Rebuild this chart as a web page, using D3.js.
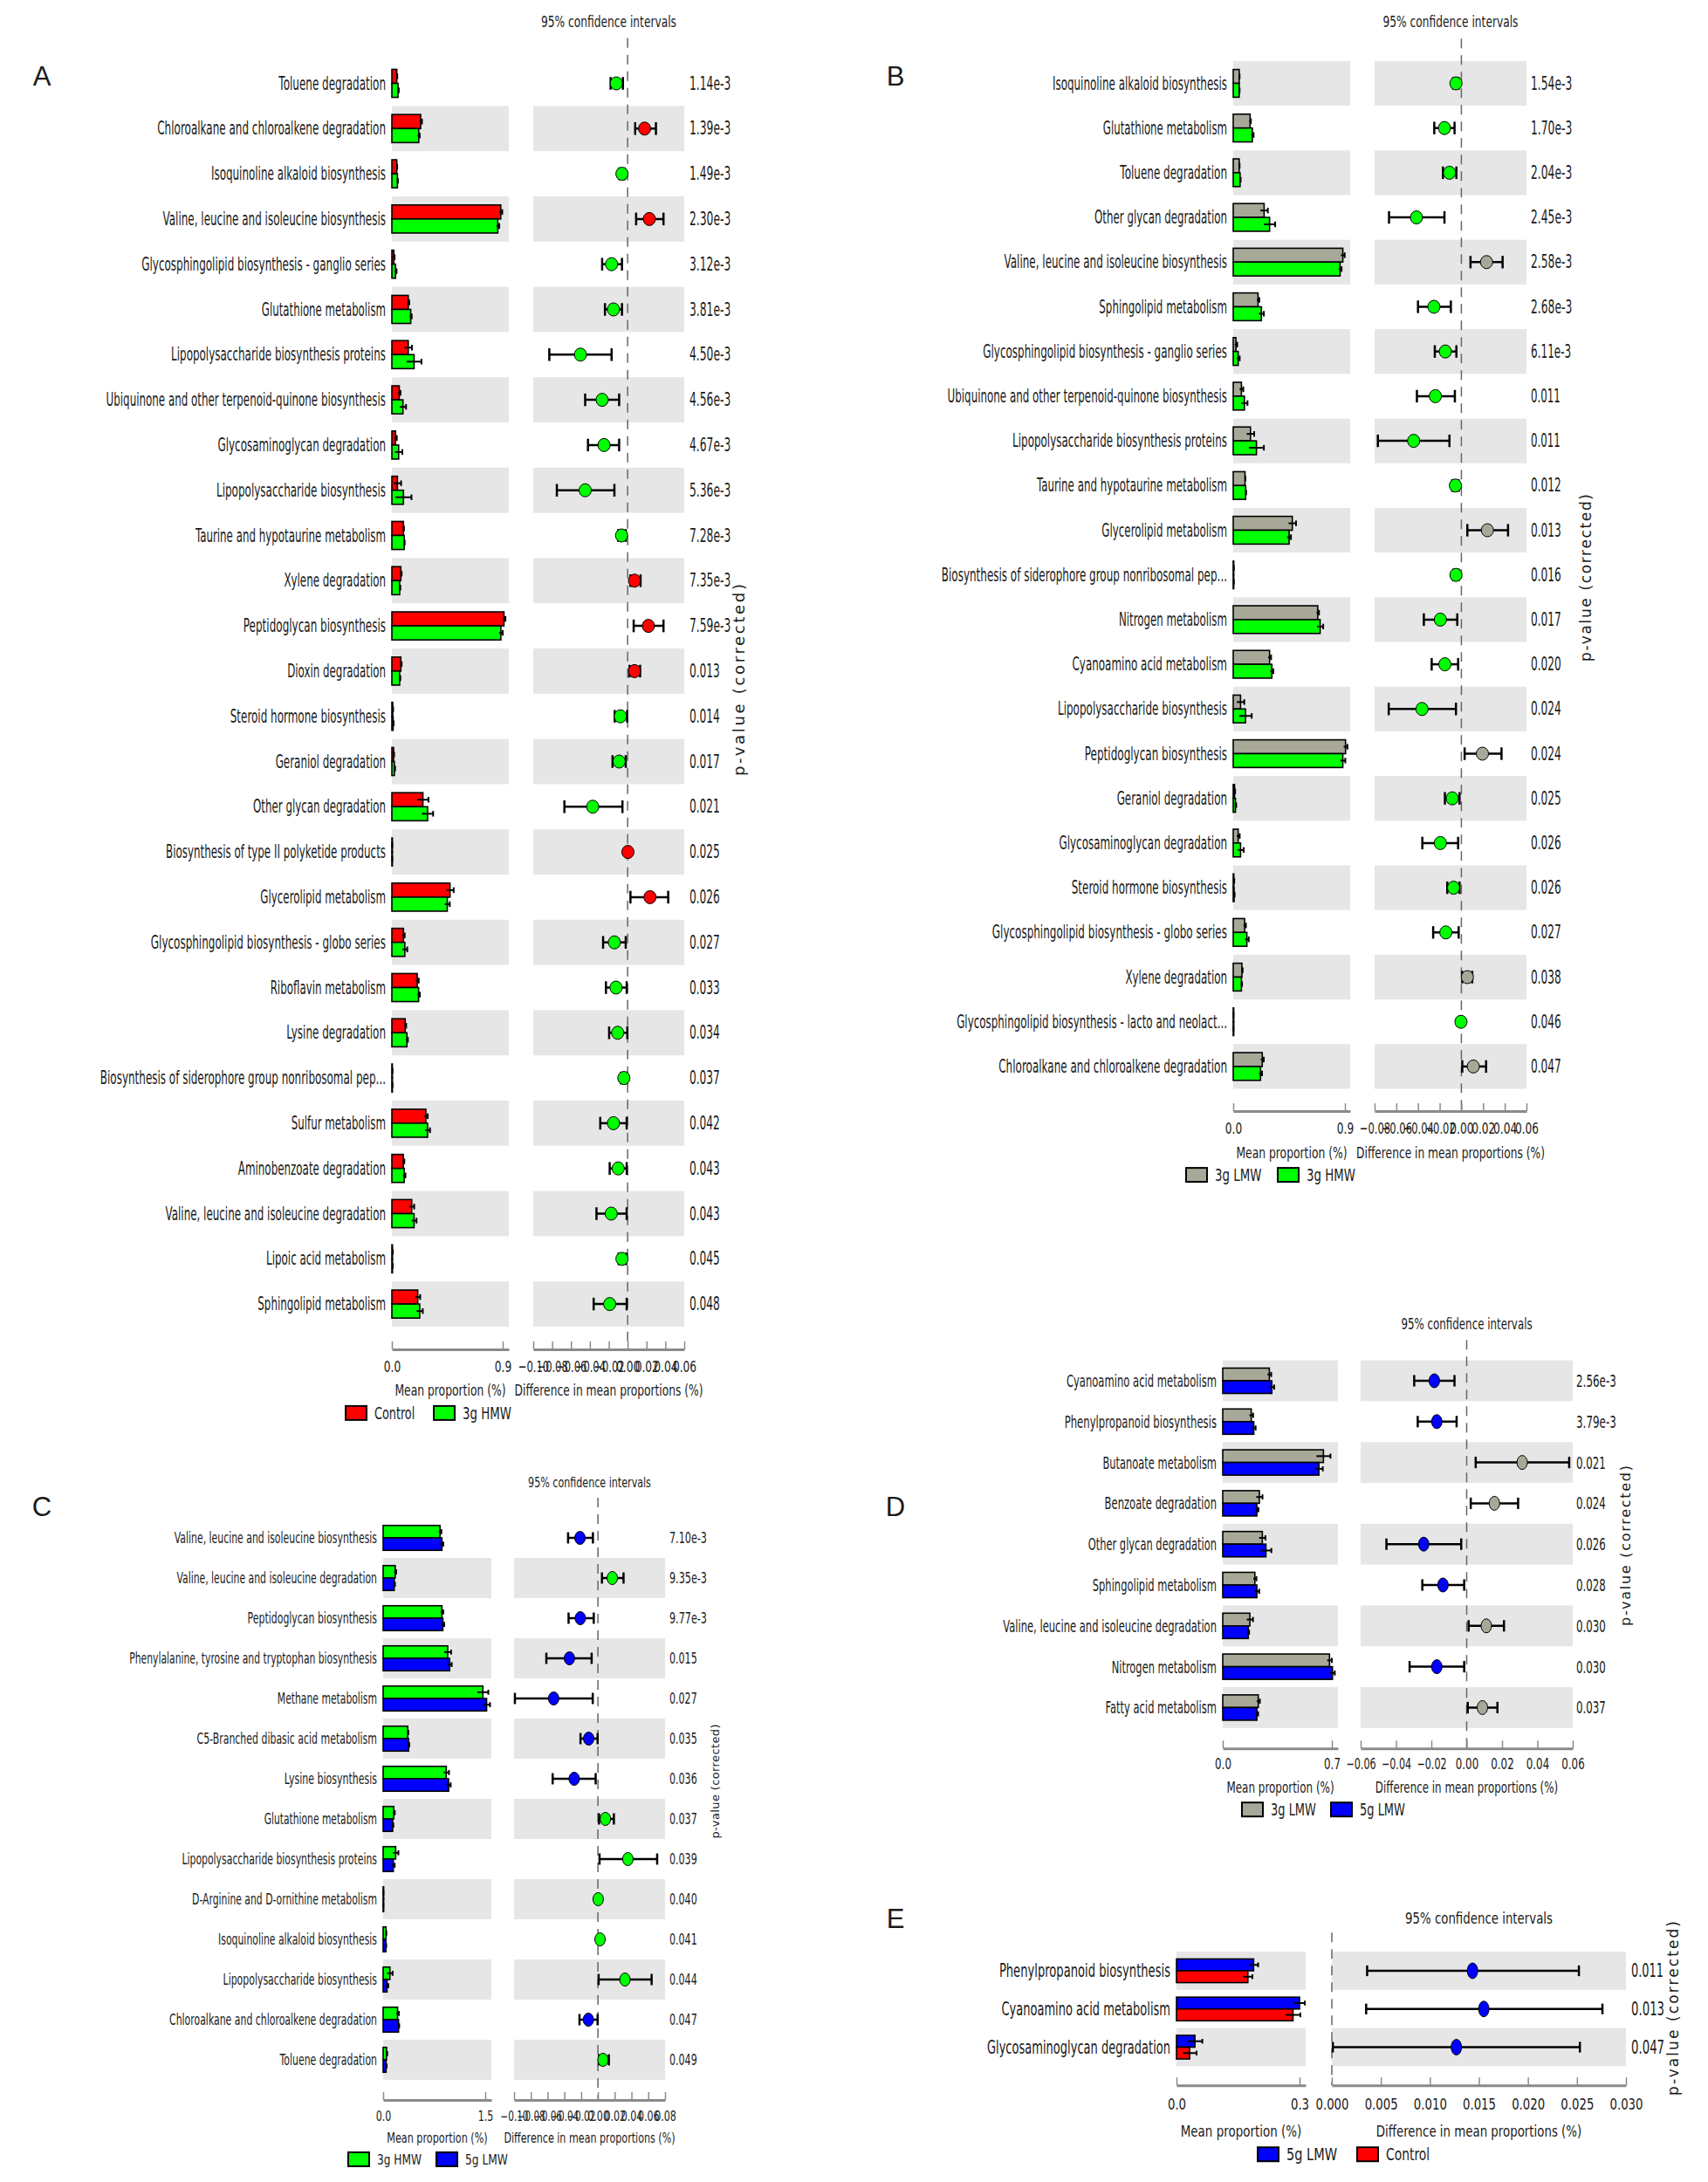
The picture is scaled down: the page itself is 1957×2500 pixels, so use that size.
<!DOCTYPE html>
<html>
  <head>
    <meta charset="UTF-8" />
    <title>STAMP extended error bar plots</title>
    <script src="https://d3js.org/d3.v7.min.js"></script>
    <style>
      body { margin: 0; background: #fff; }
      svg text { font-family: "DejaVu Sans", sans-serif; fill: #1a1a1a; }
    </style>
  </head>
  <body>
    <div id="chart"></div>
    <script>
      // couleurs des groupes
      const RED = "#ff0000", GREEN = "#00ff00", BLUE = "#0000ff", GREY = "#a8a898";

      // ---------- panneau A : Control vs 3g HMW ----------
      const aLabels = ["Toluene degradation", "Chloroalkane and chloroalkene degradation", "Isoquinoline alkaloid biosynthesis",
        "Valine, leucine and isoleucine biosynthesis", "Glycosphingolipid biosynthesis - ganglio series", "Glutathione metabolism",
        "Lipopolysaccharide biosynthesis proteins", "Ubiquinone and other terpenoid-quinone biosynthesis", "Glycosaminoglycan degradation",
        "Lipopolysaccharide biosynthesis", "Taurine and hypotaurine metabolism", "Xylene degradation", "Peptidoglycan biosynthesis",
        "Dioxin degradation", "Steroid hormone biosynthesis", "Geraniol degradation", "Other glycan degradation",
        "Biosynthesis of type II polyketide products", "Glycerolipid metabolism", "Glycosphingolipid biosynthesis - globo series",
        "Riboflavin metabolism", "Lysine degradation", "Biosynthesis of siderophore group nonribosomal pep...", "Sulfur metabolism",
        "Aminobenzoate degradation", "Valine, leucine and isoleucine degradation", "Lipoic acid metabolism", "Sphingolipid metabolism"];
      const aMean1 = [0.040, 0.234, 0.040, 0.884, 0.016, 0.133, 0.133, 0.060, 0.030, 0.045, 0.094, 0.073, 0.910, 0.073,
        0.007, 0.014, 0.252, 0.002, 0.472, 0.094, 0.206, 0.108, 0.003, 0.276, 0.093, 0.161, 0.005, 0.210];
      const aMean2 = [0.050, 0.218, 0.045, 0.860, 0.030, 0.153, 0.180, 0.090, 0.055, 0.094, 0.100, 0.063, 0.885, 0.063,
        0.010, 0.020, 0.290, 0.002, 0.450, 0.105, 0.217, 0.122, 0.003, 0.290, 0.100, 0.180, 0.005, 0.226];
      const aSd1 = [0.004, 0.010, 0.003, 0.012, 0.006, 0.008, 0.030, 0.010, 0.010, 0.030, 0.004, 0.006, 0.012, 0.006,
        0.003, 0.004, 0.045, 0.001, 0.030, 0.010, 0.012, 0.008, 0.002, 0.015, 0.008, 0.020, 0.002, 0.020];
      const aSd2 = [0.006, 0.008, 0.004, 0.012, 0.008, 0.008, 0.060, 0.025, 0.030, 0.065, 0.004, 0.006, 0.015, 0.006,
        0.004, 0.006, 0.045, 0.001, 0.020, 0.020, 0.010, 0.008, 0.002, 0.020, 0.010, 0.020, 0.002, 0.025];
      const aDiff = [-0.012, 0.018, -0.006, 0.023, -0.017, -0.015, -0.050, -0.027, -0.025, -0.045, -0.0064, 0.0073, 0.022, 0.0073,
        -0.0077, -0.009, -0.037, 0.0003, 0.0237, -0.014, -0.0123, -0.0105, -0.004, -0.015, -0.010, -0.0174, -0.006, -0.019];
      const aLo = [-0.018, 0.008, -0.009, 0.009, -0.027, -0.024, -0.083, -0.045, -0.042, -0.075, -0.010, 0.003, 0.0064, 0.002,
        -0.0137, -0.016, -0.067, -0.0005, 0.003, -0.026, -0.023, -0.0196, -0.007, -0.029, -0.019, -0.033, -0.0095, -0.036];
      const aHi = [-0.005, 0.030, -0.003, 0.038, -0.006, -0.006, -0.017, -0.009, -0.009, -0.014, -0.002, 0.0137, 0.038, 0.0132,
        -0.0005, -0.002, -0.0055, 0.001, 0.043, -0.002, -0.001, -0.0003, -0.001, -0.001, -0.001, -0.001, -0.0015, -0.001];
      const aP = ["1.14e-3", "1.39e-3", "1.49e-3", "2.30e-3", "3.12e-3", "3.81e-3", "4.50e-3", "4.56e-3", "4.67e-3", "5.36e-3",
        "7.28e-3", "7.35e-3", "7.59e-3", "0.013", "0.014", "0.017", "0.021", "0.025", "0.026", "0.027", "0.033", "0.034",
        "0.037", "0.042", "0.043", "0.043", "0.045", "0.048"];

      // ---------- panneau B : 3g LMW vs 3g HMW ----------
      const bLabels = ["Isoquinoline alkaloid biosynthesis", "Glutathione metabolism", "Toluene degradation", "Other glycan degradation",
        "Valine, leucine and isoleucine biosynthesis", "Sphingolipid metabolism", "Glycosphingolipid biosynthesis - ganglio series",
        "Ubiquinone and other terpenoid-quinone biosynthesis", "Lipopolysaccharide biosynthesis proteins",
        "Taurine and hypotaurine metabolism", "Glycerolipid metabolism", "Biosynthesis of siderophore group nonribosomal pep...",
        "Nitrogen metabolism", "Cyanoamino acid metabolism", "Lipopolysaccharide biosynthesis", "Peptidoglycan biosynthesis",
        "Geraniol degradation", "Glycosaminoglycan degradation", "Steroid hormone biosynthesis",
        "Glycosphingolipid biosynthesis - globo series", "Xylene degradation",
        "Glycosphingolipid biosynthesis - lacto and neolact...", "Chloroalkane and chloroalkene degradation"];
      const bMean1 = [0.048, 0.136, 0.048, 0.249, 0.883, 0.200, 0.022, 0.066, 0.139, 0.095, 0.476, 0.003, 0.681, 0.293,
        0.059, 0.905, 0.011, 0.040, 0.005, 0.092, 0.070, 0.001, 0.234];
      const bMean2 = [0.048, 0.154, 0.055, 0.293, 0.861, 0.227, 0.040, 0.090, 0.187, 0.100, 0.450, 0.003, 0.700, 0.311,
        0.099, 0.883, 0.018, 0.059, 0.007, 0.110, 0.066, 0.001, 0.220];
      const bSd1 = [0.003, 0.006, 0.003, 0.030, 0.015, 0.010, 0.010, 0.015, 0.030, 0.003, 0.030, 0.002, 0.010, 0.012,
        0.030, 0.015, 0.004, 0.012, 0.003, 0.010, 0.006, 0.001, 0.012];
      const bSd2 = [0.003, 0.010, 0.005, 0.045, 0.012, 0.020, 0.012, 0.025, 0.060, 0.004, 0.015, 0.002, 0.025, 0.012,
        0.050, 0.020, 0.006, 0.025, 0.004, 0.015, 0.005, 0.001, 0.012];
      const bDiff = [-0.005, -0.0156, -0.011, -0.0414, 0.0232, -0.0253, -0.0148, -0.024, -0.044, -0.0055, 0.024, -0.005,
        -0.0194, -0.0152, -0.0363, 0.0194, -0.0084, -0.0194, -0.0072, -0.0143, 0.0055, -0.0004, 0.011];
      const bLo = [-0.0076, -0.025, -0.017, -0.0667, 0.0084, -0.040, -0.0245, -0.041, -0.077, -0.0085, 0.0055, -0.0076,
        -0.0346, -0.0274, -0.067, 0.003, -0.0152, -0.036, -0.013, -0.026, 0.0008, -0.0008, 0.0008];
      const bHi = [-0.0025, -0.0063, -0.0046, -0.0156, 0.038, -0.0097, -0.0046, -0.006, -0.011, -0.0025, 0.043, -0.0025,
        -0.0038, -0.003, -0.005, 0.037, -0.0017, -0.003, -0.0017, -0.0025, 0.010, -0.0001, 0.0228];
      const bP = ["1.54e-3", "1.70e-3", "2.04e-3", "2.45e-3", "2.58e-3", "2.68e-3", "6.11e-3", "0.011", "0.011", "0.012",
        "0.013", "0.016", "0.017", "0.020", "0.024", "0.024", "0.025", "0.026", "0.026", "0.027", "0.038", "0.046", "0.047"];

      // ---------- panneau C : 3g HMW vs 5g LMW ----------
      const cLabels = ["Valine, leucine and isoleucine biosynthesis", "Valine, leucine and isoleucine degradation",
        "Peptidoglycan biosynthesis", "Phenylalanine, tyrosine and tryptophan biosynthesis", "Methane metabolism",
        "C5-Branched dibasic acid metabolism", "Lysine biosynthesis", "Glutathione metabolism",
        "Lipopolysaccharide biosynthesis proteins", "D-Arginine and D-ornithine metabolism", "Isoquinoline alkaloid biosynthesis",
        "Lipopolysaccharide biosynthesis", "Chloroalkane and chloroalkene degradation", "Toluene degradation"];
      const cMean1 = [0.835, 0.177, 0.863, 0.948, 1.465, 0.361, 0.927, 0.156, 0.184, 0.003, 0.042, 0.099, 0.212, 0.050];
      const cMean2 = [0.863, 0.163, 0.877, 0.977, 1.520, 0.375, 0.962, 0.140, 0.149, 0.002, 0.040, 0.057, 0.226, 0.043];
      const cSd1 = [0.020, 0.015, 0.020, 0.050, 0.080, 0.010, 0.040, 0.015, 0.040, 0.001, 0.005, 0.040, 0.020, 0.010];
      const cSd2 = [0.020, 0.010, 0.020, 0.030, 0.050, 0.010, 0.030, 0.010, 0.020, 0.001, 0.005, 0.020, 0.010, 0.008];
      const cDiff = [-0.0214, 0.0171, -0.021, -0.034, -0.0528, -0.011, -0.0283, 0.0089, 0.0357, 0.0003, 0.0025, 0.0322, -0.0114, 0.006];
      const cLo = [-0.0356, 0.0048, -0.035, -0.0615, -0.099, -0.0208, -0.054, 0.0013, 0.0019, 0.0001, 0.0012, 0.0008, -0.022, 0.0013];
      const cHi = [-0.006, 0.0305, -0.005, -0.0075, -0.0062, -0.0004, -0.0027, 0.019, 0.0706, 0.0005, 0.0038, 0.064, -0.0004, 0.013];
      const cP = ["7.10e-3", "9.35e-3", "9.77e-3", "0.015", "0.027", "0.035", "0.036", "0.037", "0.039", "0.040", "0.041",
        "0.044", "0.047", "0.049"];

      // ---------- panneau D : 3g LMW vs 5g LMW ----------
      const dLabels = ["Cyanoamino acid metabolism", "Phenylpropanoid biosynthesis", "Butanoate metabolism", "Benzoate degradation",
        "Other glycan degradation", "Sphingolipid metabolism", "Valine, leucine and isoleucine degradation", "Nitrogen metabolism",
        "Fatty acid metabolism"];
      const dMean1 = [0.299, 0.183, 0.646, 0.235, 0.254, 0.206, 0.174, 0.685, 0.228];
      const dMean2 = [0.315, 0.199, 0.617, 0.219, 0.277, 0.219, 0.164, 0.704, 0.219];
      const dSd1 = [0.012, 0.012, 0.045, 0.020, 0.020, 0.010, 0.020, 0.015, 0.010];
      const dSd2 = [0.015, 0.012, 0.025, 0.010, 0.035, 0.015, 0.005, 0.015, 0.008];
      const dDiff = [-0.0183, -0.0169, 0.0314, 0.0157, -0.0243, -0.0134, 0.0111, -0.0169, 0.0089];
      const dLo = [-0.0297, -0.0277, 0.0051, 0.0023, -0.0454, -0.0251, 0.0011, -0.0323, 0.0006];
      const dHi = [-0.0069, -0.0057, 0.058, 0.0291, -0.0031, -0.0014, 0.0211, -0.0014, 0.0174];
      const dP = ["2.56e-3", "3.79e-3", "0.021", "0.024", "0.026", "0.028", "0.030", "0.030", "0.037"];

      // ---------- panneau E : 5g LMW vs Control ----------
      const eLabels = ["Phenylpropanoid biosynthesis", "Cyanoamino acid metabolism", "Glycosaminoglycan degradation"];
      const eMean1 = [0.188, 0.300, 0.045];
      const eMean2 = [0.174, 0.284, 0.032];
      const eSd1 = [0.011, 0.013, 0.018];
      const eSd2 = [0.011, 0.018, 0.017];
      const eDiff = [0.01435, 0.0155, 0.0127];
      const eLo = [0.0036, 0.0035, 0.0001];
      const eHi = [0.0252, 0.0276, 0.0253];
      const eP = ["0.011", "0.013", "0.047"];

      const svg = d3.select("#chart").append("svg")
        .attr("width", 1957)
        .attr("height", 2500);

      // texte haut et étroit : largeur d'une « Narrow » (82 % de Liberation Sans à fsRef),
      // hauteur de DejaVu Sans à la taille demandée
      function narrow(sel, fsRef, size, k) {
        sel.each(function () {
          const t = d3.select(this);
          t.style("font-family", "'Liberation Sans'").attr("font-size", fsRef);
          const w = this.getComputedTextLength() * 0.82 * k;
          t.style("font-family", "'DejaVu Sans'").attr("font-size", size)
            .attr("textLength", w).attr("lengthAdjust", "spacingAndGlyphs");
        });
      }

      function drawPanel(p) {
        const n = p.labels.length;
        const rows = d3.range(n);
        const g = svg.append("g");
        const lastY = p.rowTop + (n - 1) * p.step;
        const y = d3.scalePoint().domain(rows).range([p.rowTop, lastY]);
        const barMax = p.barTick * (p.barX1 - p.barX0) / (p.barTickX - p.barX0);
        const xBar = d3.scaleLinear().domain([0, barMax]).range([p.barX0, p.barX1]);
        const xDiff = d3.scaleLinear().domain(p.diffDomain).range([p.diffX0, p.diffX1]);
        const bh = p.step * 0.31;
        const axisY = lastY + p.step;
        const shaded = rows.filter(i => (n - 1 - i) % 2 === 0);

        // bandes grises une ligne sur deux (en partant du bas)
        [[p.barX0, p.barX1], [p.diffX0, p.diffX1]].forEach(([x0, x1]) => {
          g.append("g").selectAll("rect")
            .data(shaded)
            .join("rect")
            .attr("x", x0)
            .attr("width", x1 - x0)
            .attr("y", i => y(i) - p.step / 2)
            .attr("height", p.step)
            .attr("fill", "#e6e6e6");
        });

        // noms des voies
        const labelTxt = g.append("g").selectAll("text")
          .data(rows)
          .join("text")
          .attr("x", p.barX0 - 7)
          .attr("y", i => y(i))
          .attr("text-anchor", "end")
          .attr("dominant-baseline", "central")
          .text(i => p.labels[i]);
        narrow(labelTxt, p.fs, p.size, 1);

        // barres des proportions moyennes
        const bars = [];
        rows.forEach(i => {
          bars.push({ i: i, k: 0, m: p.mean1[i], sd: p.sd1[i], c: p.colors[0] });
          bars.push({ i: i, k: 1, m: p.mean2[i], sd: p.sd2[i], c: p.colors[1] });
        });
        const barY = d => y(d.i) - bh + d.k * bh;
        g.append("g").selectAll("rect")
          .data(bars)
          .join("rect")
          .attr("x", p.barX0)
          .attr("y", barY)
          .attr("width", d => Math.max(0.6, xBar(d.m) - p.barX0))
          .attr("height", bh)
          .attr("fill", d => d.c)
          .attr("stroke", "#000")
          .attr("stroke-width", 1.6);
        const be = g.append("g").attr("stroke", "#000").attr("stroke-width", 2);
        be.selectAll("line.h")
          .data(bars)
          .join("line")
          .attr("class", "h")
          .attr("x1", d => xBar(Math.max(0, d.m - d.sd)))
          .attr("x2", d => xBar(d.m + d.sd))
          .attr("y1", d => barY(d) + bh / 2)
          .attr("y2", d => barY(d) + bh / 2);
        be.selectAll("line.c")
          .data(bars)
          .join("line")
          .attr("class", "c")
          .attr("x1", d => xBar(d.m + d.sd))
          .attr("x2", d => xBar(d.m + d.sd))
          .attr("y1", d => barY(d) + bh * 0.3)
          .attr("y2", d => barY(d) + bh * 0.7);

        // ligne zéro en tirets
        g.append("line")
          .attr("x1", xDiff(0)).attr("x2", xDiff(0))
          .attr("y1", p.rowTop - p.step).attr("y2", axisY)
          .attr("stroke", "#666")
          .attr("stroke-width", 1.5)
          .attr("stroke-dasharray", "11,8");

        // intervalles de confiance
        const capH = p.step * 0.14;
        const ci = g.append("g").attr("stroke", "#000").attr("stroke-width", 2.5);
        ci.selectAll("line.h")
          .data(rows)
          .join("line")
          .attr("class", "h")
          .attr("x1", i => xDiff(p.lo[i]))
          .attr("x2", i => xDiff(p.hi[i]))
          .attr("y1", i => y(i))
          .attr("y2", i => y(i));
        ci.selectAll("line.l")
          .data(rows)
          .join("line")
          .attr("class", "l")
          .attr("x1", i => xDiff(p.lo[i])).attr("x2", i => xDiff(p.lo[i]))
          .attr("y1", i => y(i) - capH).attr("y2", i => y(i) + capH);
        ci.selectAll("line.r")
          .data(rows)
          .join("line")
          .attr("class", "r")
          .attr("x1", i => xDiff(p.hi[i])).attr("x2", i => xDiff(p.hi[i]))
          .attr("y1", i => y(i) - capH).attr("y2", i => y(i) + capH);
        g.append("g").selectAll("ellipse")
          .data(rows)
          .join("ellipse")
          .attr("cx", i => xDiff(p.diff[i]))
          .attr("cy", i => y(i))
          .attr("rx", p.rx)
          .attr("ry", p.ry)
          .attr("fill", i => p.diff[i] >= 0 ? p.colors[0] : p.colors[1])
          .attr("stroke", "#000")
          .attr("stroke-width", 1);

        // p-values
        const pTxt = g.append("g").selectAll("text")
          .data(rows)
          .join("text")
          .attr("x", p.pX)
          .attr("y", i => y(i))
          .attr("dominant-baseline", "central")
          .text(i => p.pvals[i]);
        narrow(pTxt, p.fs, p.size, 1.03);

        // axes
        const barAxis = d3.axisBottom(xBar)
          .tickValues([0, p.barTick])
          .tickFormat(d3.format(".1f"))
          .tickSizeInner(-9).tickSizeOuter(0)
          .tickPadding(p.tickDy - p.size * 0.34);
        const diffStep = p.diffTickStep;
        const diffTicks = d3.range(Math.round(p.diffDomain[0] / diffStep), Math.round(p.diffDomain[1] / diffStep) + 1)
          .map(k => k * diffStep);
        const diffAxis = d3.axisBottom(xDiff)
          .tickValues(diffTicks)
          .tickFormat(d3.format(p.diffFormat))
          .tickSizeInner(-9).tickSizeOuter(0)
          .tickPadding(p.tickDy - p.size * 0.34);
        [barAxis, diffAxis].forEach(ax => {
          const ga = g.append("g")
            .attr("transform", "translate(0," + axisY + ")")
            .call(ax)
            .attr("font-family", null)
            .attr("color", "#1a1a1a");
          ga.select(".domain").attr("stroke", "#8a8a8a").attr("stroke-width", 3);
          ga.selectAll(".tick line").attr("stroke", "#8a8a8a").attr("stroke-width", 1.5);
          narrow(ga.selectAll(".tick text"), p.fs, p.size * 0.88, 1.03);
        });

        // titres
        const titles = g.append("g").selectAll("text")
          .data([
            ["95% confidence intervals", (p.diffX0 + p.diffX1) / 2, p.rowTop - 1.38 * p.step],
            ["Mean proportion (%)", (p.barX0 + p.barX1) / 2, axisY + p.titleDy],
            ["Difference in mean proportions (%)", (p.diffX0 + p.diffX1) / 2, axisY + p.titleDy]
          ])
          .join("text")
          .attr("x", d => d[1])
          .attr("y", d => d[2])
          .attr("text-anchor", "middle")
          .attr("dominant-baseline", "central")
          .text(d => d[0]);
        narrow(titles, p.fs, p.size * 0.88, 1.03);

        // légende
        const lg = g.append("g").selectAll("g")
          .data([0, 1])
          .join("g")
          .attr("transform", k => "translate(" + p.legendX[k] + "," + (axisY + p.legendDy) + ")");
        lg.append("rect")
          .attr("x", 0).attr("y", -8)
          .attr("width", 24).attr("height", 16)
          .attr("fill", k => p.colors[k])
          .attr("stroke", "#000")
          .attr("stroke-width", 2);
        const lgTxt = lg.append("text")
          .attr("x", 33)
          .attr("dominant-baseline", "central")
          .text(k => p.groups[k]);
        narrow(lgTxt, p.fs + 1, p.size * 0.95, 1);

        // lettre du panneau et étiquette p-value
        g.append("text")
          .attr("x", p.letter[1]).attr("y", p.letter[2])
          .attr("text-anchor", "middle")
          .attr("dominant-baseline", "central")
          .style("font-family", "'Liberation Sans', Arial, sans-serif")
          .attr("font-size", 31)
          .text(p.letter[0]);
        g.append("text")
          .attr("transform", "translate(" + p.pLabel[0] + "," + p.pLabel[1] + ") rotate(-90)")
          .attr("text-anchor", "middle")
          .attr("dominant-baseline", "central")
          .attr("font-size", p.pLabel[2])
          .attr("textLength", p.pLabel[3])
          .attr("lengthAdjust", "spacing")
          .text("p-value (corrected)");
      }

      drawPanel({
        labels: aLabels, mean1: aMean1, mean2: aMean2, sd1: aSd1, sd2: aSd2, diff: aDiff, lo: aLo, hi: aHi, pvals: aP,
        groups: ["Control", "3g HMW"], colors: [RED, GREEN], letter: ["A", 48, 87],
        rowTop: 95.5, step: 51.8, fs: 16.5, size: 21,
        barX0: 449, barTick: 0.9, barTickX: 576, barX1: 583,
        diffX0: 611, diffX1: 784, diffDomain: [-0.10, 0.06], diffTickStep: 0.02, diffFormat: ".2f",
        rx: 7, ry: 7.5, pX: 790, pLabel: [846, 779, 18, 220],
        tickDy: 20, titleDy: 47, legendDy: 73, legendX: [396, 497]
      });
      drawPanel({
        labels: bLabels, mean1: bMean1, mean2: bMean2, sd1: bSd1, sd2: bSd2, diff: bDiff, lo: bLo, hi: bHi, pvals: bP,
        groups: ["3g LMW", "3g HMW"], colors: [GREY, GREEN], letter: ["B", 1026, 87],
        rowTop: 95.5, step: 51.2, fs: 16.5, size: 21,
        barX0: 1413, barTick: 0.9, barTickX: 1541, barX1: 1547,
        diffX0: 1575, diffX1: 1749, diffDomain: [-0.08, 0.06], diffTickStep: 0.02, diffFormat: ".2f",
        rx: 7, ry: 7.5, pX: 1754, pLabel: [1817, 662, 17, 192],
        tickDy: 20, titleDy: 47, legendDy: 73, legendX: [1359, 1464]
      });
      drawPanel({
        labels: cLabels, mean1: cMean1, mean2: cMean2, sd1: cSd1, sd2: cSd2, diff: cDiff, lo: cLo, hi: cHi, pvals: cP,
        groups: ["3g HMW", "5g LMW"], colors: [GREEN, BLUE], letter: ["C", 48, 1726],
        rowTop: 1762, step: 46.0, fs: 15, size: 17.5,
        barX0: 439, barTick: 1.5, barTickX: 556, barX1: 563,
        diffX0: 589, diffX1: 762, diffDomain: [-0.10, 0.08], diffTickStep: 0.02, diffFormat: ".2f",
        rx: 6, ry: 7.5, pX: 767, pLabel: [819, 2041, 13, 131],
        tickDy: 19, titleDy: 44, legendDy: 68, legendX: [399, 500]
      });
      drawPanel({
        labels: dLabels, mean1: dMean1, mean2: dMean2, sd1: dSd1, sd2: dSd2, diff: dDiff, lo: dLo, hi: dHi, pvals: dP,
        groups: ["3g LMW", "5g LMW"], colors: [GREY, BLUE], letter: ["D", 1026, 1726],
        rowTop: 1582, step: 46.8, fs: 16, size: 20,
        barX0: 1401, barTick: 0.7, barTickX: 1526, barX1: 1533,
        diffX0: 1559, diffX1: 1802, diffDomain: [-0.06, 0.06], diffTickStep: 0.02, diffFormat: ".2f",
        rx: 6, ry: 8, pX: 1806, pLabel: [1862, 1771, 16, 184],
        tickDy: 18, titleDy: 45, legendDy: 70, legendX: [1423, 1525]
      });
      drawPanel({
        labels: eLabels, mean1: eMean1, mean2: eMean2, sd1: eSd1, sd2: eSd2, diff: eDiff, lo: eLo, hi: eHi, pvals: eP,
        groups: ["5g LMW", "Control"], colors: [BLUE, RED], letter: ["E", 1026, 2198],
        rowTop: 2258, step: 43.75, fs: 18, size: 20.5,
        barX0: 1348, barTick: 0.3, barTickX: 1489, barX1: 1496,
        diffX0: 1526, diffX1: 1863, diffDomain: [0, 0.03], diffTickStep: 0.005, diffFormat: ".3f",
        rx: 6, ry: 9, pX: 1869, pLabel: [1917, 2301, 17, 200],
        tickDy: 22, titleDy: 52, legendDy: 79, legendX: [1441, 1555]
      });
    </script>
  </body>
</html>
